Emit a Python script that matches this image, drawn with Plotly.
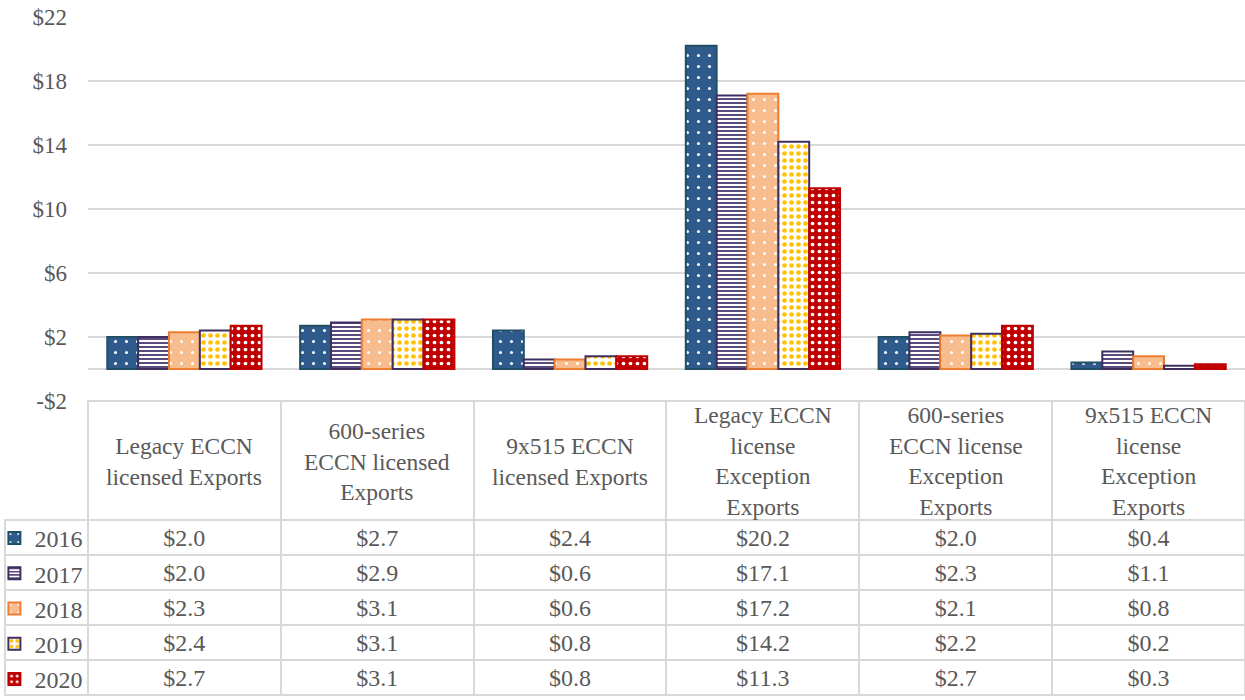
import plotly.graph_objects as go

categories = ["Legacy ECCN licensed Exports", "600-series ECCN licensed Exports",
              "9x515 ECCN licensed Exports", "Legacy ECCN license Exception Exports",
              "600-series ECCN license Exception Exports", "9x515 ECCN license Exception Exports"]
header_labels = ["Legacy ECCN<br>licensed Exports", "600-series<br>ECCN licensed<br>Exports",
                 "9x515 ECCN<br>licensed Exports", "Legacy ECCN<br>license<br>Exception<br>Exports",
                 "600-series<br>ECCN license<br>Exception<br>Exports",
                 "9x515 ECCN<br>license<br>Exception<br>Exports"]
years = ["2016", "2017", "2018", "2019", "2020"]
v2016 = [2.0, 2.7, 2.4, 20.2, 2.0, 0.4]
v2017 = [2.0, 2.9, 0.6, 17.1, 2.3, 1.1]
v2018 = [2.3, 3.1, 0.6, 17.2, 2.1, 0.8]
v2019 = [2.4, 3.1, 0.8, 14.2, 2.2, 0.2]
v2020 = [2.7, 3.1, 0.8, 11.3, 2.7, 0.3]
series = [v2016, v2017, v2018, v2019, v2020]
tick_vals = [-2, 2, 6, 10, 14, 18, 22]
tick_text = ["-$2", "$2", "$6", "$10", "$14", "$18", "$22"]

styles = [
    dict(bg="#2E5B8C", fg="white", shape=".", size=11, sol=0.06, line="#214F66"),
    dict(bg="white", fg="#5B4A7E", shape="-", size=4, sol=0.5, line="#3E2F5E"),
    dict(bg="#F8BD8E", fg="white", shape=".", size=11, sol=0.06, line="#ED7D31"),
    dict(bg="white", fg="#FFC000", shape=".", size=7, sol=0.35, line="#3E2F5E"),
    dict(bg="#C00000", fg="white", shape=".", size=7, sol=0.22, line="#C00000"),
]

FONT = "Liberation Serif"
TXT = "#595959"
GRID = "#D9D9D9"
W, H = 1245, 700

fig = go.Figure()
for i, (yr, vals) in enumerate(zip(years, series)):
    s = styles[i]
    fig.add_trace(go.Bar(
        x=categories, y=vals, name=yr, legendgroup=yr,
        marker=dict(color=s["bg"], line=dict(color=s["line"], width=2),
                    pattern=dict(shape=s["shape"], fgcolor=s["fg"], bgcolor=s["bg"],
                                 size=s["size"], solidity=s["sol"], fillmode="replace")),
    ))

# data table
cell_cols = [[""] * len(years)]
for j in range(len(categories)):
    cell_cols.append(["$%.1f" % series[k][j] for k in range(len(years))])
col_w = [83] + [193] * len(categories)
fig.add_trace(go.Table(
    domain=dict(x=[5 / W, 1], y=[4 / H, (H - 401) / H]),
    columnwidth=col_w,
    header=dict(values=[""] * (len(categories) + 1), height=119,
                fill_color=["rgba(0,0,0,0)"] + ["white"] * len(categories),
                line=dict(color=["rgba(0,0,0,0)"] + [GRID] * len(categories), width=2)),
    cells=dict(values=cell_cols, height=35, align="center",
               fill_color="white", line=dict(color=GRID, width=2),
               font=dict(family=FONT, size=24, color=TXT)),
))

annotations = []
for cat, lab in zip(categories, header_labels):
    annotations.append(dict(x=cat, xref="x", y=(H - 461) / H, yref="paper",
                            text=lab, showarrow=False, yanchor="middle", xanchor="center",
                            font=dict(family=FONT, size=23.5, color=TXT)))

fig.update_layout(
    width=W, height=H,
    margin=dict(l=0, r=0, t=0, b=0, autoexpand=False),
    paper_bgcolor="white", plot_bgcolor="white",
    barmode="group", bargap=0.2, bargroupgap=0,
    font=dict(family=FONT, size=23, color=TXT),
    xaxis=dict(domain=[88 / W, 1], showticklabels=False, showgrid=False,
               showline=False, zeroline=False, ticks=""),
    yaxis=dict(domain=[(H - 401) / H, (H - 17) / H], range=[-2, 22],
               tickvals=tick_vals, ticktext=tick_text, showgrid=True,
               gridcolor=GRID, gridwidth=1.5, zeroline=True, zerolinecolor=GRID,
               zerolinewidth=1.5, showline=False, ticks="", ticklabelstandoff=20,
               tickfont=dict(family=FONT, size=23, color=TXT)),
    legend=dict(x=-0.0045, xanchor="left", y=(H - 516) / H, yanchor="top",
                traceorder="grouped", tracegroupgap=1, bgcolor="rgba(0,0,0,0)",
                font=dict(family=FONT, size=24, color=TXT), itemclick=False),
    annotations=annotations,
)
fig.write_html("out.html", config={"displayModeBar": False},
               post_script="document.body.style.margin='0';")
